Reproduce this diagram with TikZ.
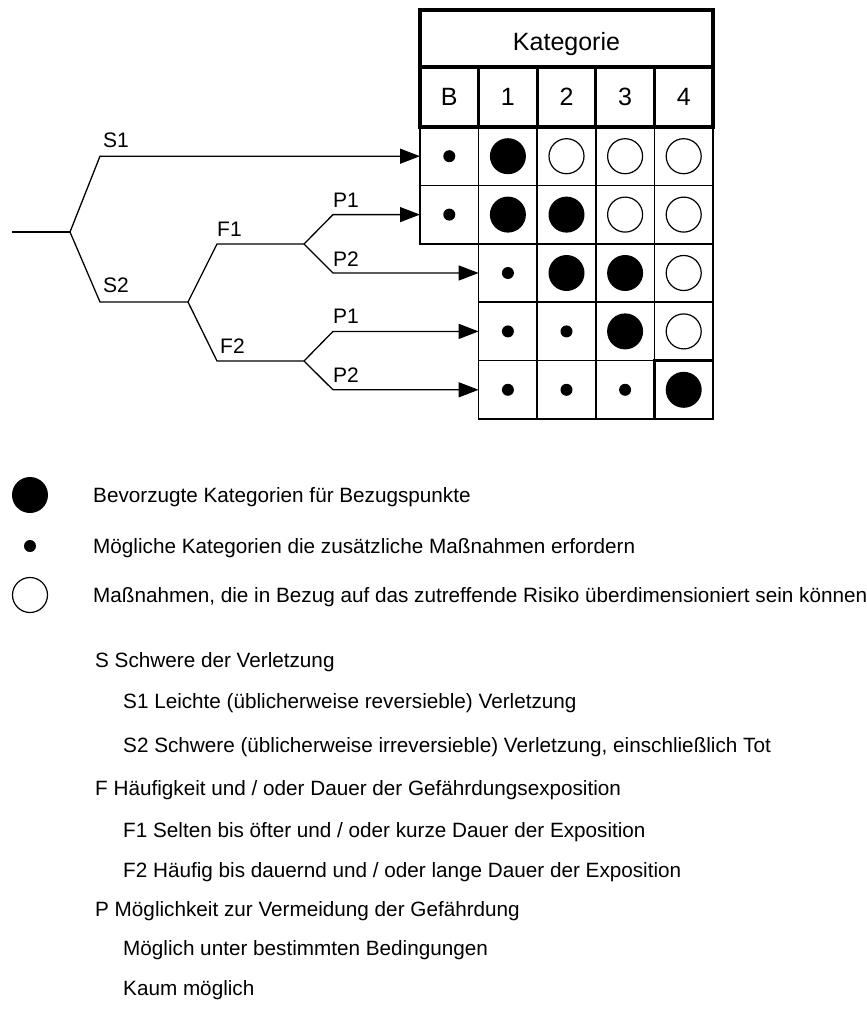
\documentclass[tikz,border=0pt]{standalone}
\usepackage{fontspec}
\setmainfont{Liberation Sans}
\usetikzlibrary{arrows.meta}

\begin{document}
\begin{tikzpicture}[x=1pt,y=-1pt,
  tree/.style={line width=1.3pt},
  arr/.style={tree,-{Triangle[length=20pt,width=15pt]}},
  cell/.style={draw,line width=1.6pt,minimum width=58.6pt,minimum height=58.4pt,inner sep=0pt,outer sep=0pt},
  headcell/.style={draw,line width=3.3pt,inner sep=0pt,outer sep=0pt,font=\fontsize{25}{30}\selectfont},
  bigdisc/.style={circle,fill=black,minimum size=36pt,inner sep=0pt},
  ring/.style={circle,draw,line width=1.2pt,fill=white,minimum size=35pt,inner sep=0pt},
  sdot/.style={circle,fill=black,minimum size=12pt,inner sep=0pt},
  lab/.style={anchor=base west,inner sep=0pt,font=\fontsize{21}{25}\selectfont},
  leg/.style={anchor=base west,inner sep=0pt,font=\fontsize{20.7}{24}\selectfont},
]
\useasboundingbox (0,0) rectangle (867,1017);

% ---- risk graph table: body cells with their symbols
\foreach \r/\c/\k in {1/0/sdot,1/1/bigdisc,1/2/ring,1/3/ring,1/4/ring,
                      2/0/sdot,2/1/bigdisc,2/2/bigdisc,2/3/ring,2/4/ring,
                      3/1/sdot,3/2/bigdisc,3/3/bigdisc,3/4/ring,
                      4/1/sdot,4/2/sdot,4/3/bigdisc,4/4/ring,
                      5/1/sdot,5/2/sdot,5/3/sdot,5/4/bigdisc}{
  \node[cell] (c-\r-\c) at ({420+58.6*(\c+0.5)},{127+58.4*(\r-0.5)}) {};
  \node[\k] (m-\r-\c) at (c-\r-\c) {};
}
\draw[line width=2.8pt] (c-5-4.north west) rectangle (c-5-4.south east);

% ---- header
\foreach \c/\t in {0/B,1/1,2/2,3/3,4/4}{
  \node[headcell,minimum width=58.6pt,minimum height=60pt] (h-\c) at ({420+58.6*(\c+0.5)},97) {\t};
}
\node[headcell,minimum width=293pt,minimum height=57pt] (kat) at (566.5,38.5) {};
\node[font=\fontsize{25}{30}\selectfont,text depth=0pt,inner sep=0pt] (katlab) at (566.5,41) {Kategorie};

% ---- decision tree
\coordinate (t0) at (12,232);
\coordinate (a) at (70,232);
\coordinate (s1) at (100,156.2);
\coordinate (s2) at (100,302);
\coordinate (b) at (188,302);
\coordinate (f1) at (217,244);
\coordinate (c) at (304,244);
\coordinate (p11) at (333,214.6);
\coordinate (p12) at (333,273);
\coordinate (f2) at (217,361);
\coordinate (d) at (304,361);
\coordinate (p21) at (333,331.4);
\coordinate (p22) at (333,389.8);

\draw[tree] (t0) -- (a);
\draw[arr] (a) -- (s1) -- (s1 -| c-1-0.west);
\draw[tree] (a) -- (s2) -- (b);
\draw[tree] (b) -- (f1) -- (c);
\draw[tree] (b) -- (f2) -- (d);
\draw[arr] (c) -- (p11) -- (p11 -| c-2-0.west);
\draw[arr] (c) -- (p12) -- (p12 -| c-3-1.west);
\draw[arr] (d) -- (p21) -- (p21 -| c-4-1.west);
\draw[arr] (d) -- (p22) -- (p22 -| c-5-1.west);

\node[lab] (lS1) at (103,147) {S1};
\node[lab] (lS2) at (103,292) {S2};
\node[lab] (lF1) at (217,236) {F1};
\node[lab] (lF2) at (220,353) {F2};
\node[lab] (lP11) at (333,207) {P1};
\node[lab] (lP12) at (333,266) {P2};
\node[lab] (lP21) at (333,323) {P1};
\node[lab] (lP22) at (333,382) {P2};

% ---- legend
\node[bigdisc] (k1) at (30,495) {};
\node[sdot] (k2) at (30,546) {};
\node[ring] (k3) at (30,595) {};
\node[leg] (g1) at (93,502.4) {Bevorzugte Kategorien für Bezugspunkte};
\node[leg] (g2) at (93,553) {Mögliche Kategorien die zusätzliche Maßnahmen erfordern};
\node[leg] (g3) at (93,602) {Maßnahmen, die in Bezug auf das zutreffende Risiko überdimensioniert sein können};

\node[leg] (e1) at (95,667) {S Schwere der Verletzung};
\node[leg] (e2) at (123,708) {S1 Leichte (üblicherweise reversieble) Verletzung};
\node[leg] (e3) at (123,752) {S2 Schwere (üblicherweise irreversieble) Verletzung, einschließlich Tot};
\node[leg] (e4) at (95,795) {F Häufigkeit und / oder Dauer der Gefährdungsexposition};
\node[leg] (e5) at (123,837) {F1 Selten bis öfter und / oder kurze Dauer der Exposition};
\node[leg] (e6) at (123,877) {F2 Häufig bis dauernd und / oder lange Dauer der Exposition};
\node[leg] (e7) at (95,916) {P Möglichkeit zur Vermeidung der Gefährdung};
\node[leg] (e8) at (123,955) {Möglich unter bestimmten Bedingungen};
\node[leg] (e9) at (123,995) {Kaum möglich};
\end{tikzpicture}
\end{document}
